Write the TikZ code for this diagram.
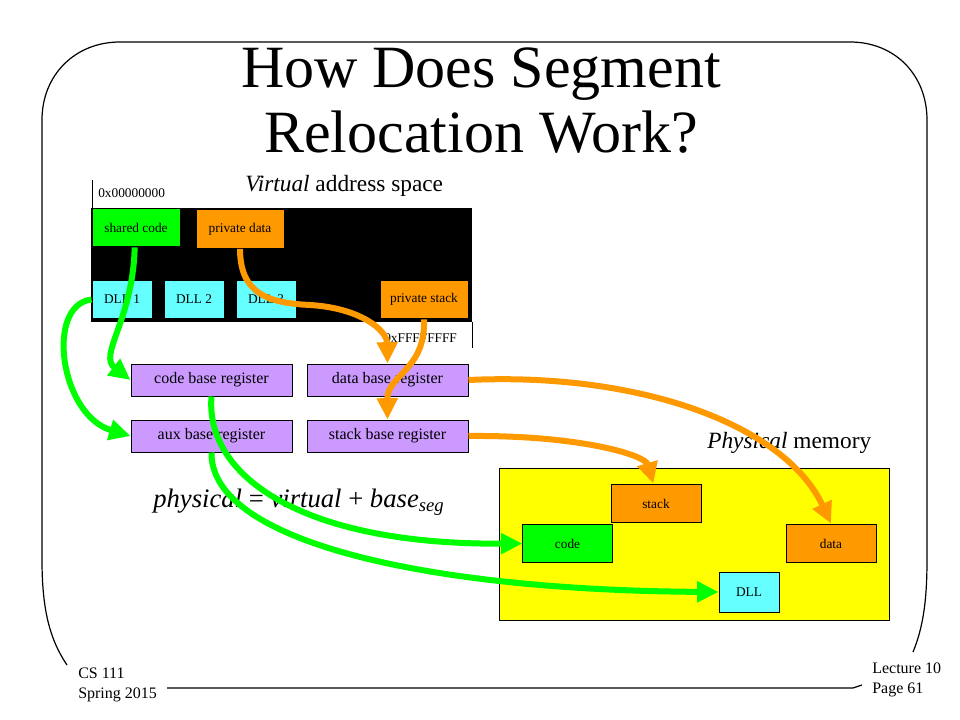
\documentclass[tikz,border=0pt]{standalone}
\usepackage{fontspec}
\setmainfont{Liberation Serif}
\usetikzlibrary{arrows.meta}
\definecolor{segGreen}{HTML}{00FF00}
\definecolor{segOrange}{HTML}{FF9900}
\definecolor{segCyan}{HTML}{66FFFF}
\definecolor{regPurple}{HTML}{CC99FF}
\definecolor{memYellow}{HTML}{FFFF00}
\tikzset{>={Triangle[length=16pt,width=15pt]}}
\tikzset{
    box/.style={draw=black, line width=0.75pt, inner sep=0pt, font=\fontsize{10}{12}\selectfont},
    seg/.style={box, minimum width=66pt, minimum height=29pt},
    dll/.style={box, fill=segCyan, minimum width=45pt, minimum height=28pt},
    reg/.style={box, fill=regPurple, minimum width=120.75pt, minimum height=24pt, font=\fontsize{12}{14}\selectfont},
    link/.style={->, line width=4.5pt},
    small/.style={font=\fontsize{10}{12}\selectfont, inner sep=0pt},
    foot/.style={font=\fontsize{12}{14}\selectfont, inner sep=0pt, anchor=base west},
}

\begin{document}
\begin{tikzpicture}[x=0.75pt, y=-0.75pt]
    \useasboundingbox (0,0) rectangle (960,720);
    % slide frame
    \draw [line width=0.9pt] (67,665) .. controls (50,640) and (42,610) .. (42,560) -- (42,120)
        .. controls (42,75) and (75,42) .. (120,42) -- (850,42)
        .. controls (895,42) and (927,75) .. (927,120) -- (927,560)
        .. controls (927,605) and (922,630) .. (913,652);
    \draw [line width=0.9pt] (167,688) -- (853,688) -- (862,685);
    % title
    \node (t1) at (481,88) [anchor=base, inner sep=0pt, font=\fontsize{45}{50}\selectfont] {How Does Segment};
    \node (t2) at (481,153) [anchor=base, inner sep=0pt, font=\fontsize{45}{50}\selectfont] {Relocation Work?};
    % virtual address space
    \node (vas) at (245,192) [anchor=base west, inner sep=0pt, font=\fontsize{17.5}{20}\selectfont] {\textit{Virtual} address space};
    \node (lo) at (98,198) [small, anchor=base west] {0x00000000};
    \node (hi) at (384,342) [small, anchor=base west] {0xFFFFFFFF};
    \draw [line width=0.75pt] (92,180) -- (92,208);
    \draw [line width=0.75pt] (472,322) -- (472,348);
    \fill [black] (91,208) rectangle (472,322);
    \node (sc) at (136,227.5) [seg, fill=segGreen] {shared code};
    \node (pd) at (240,229) [seg, fill=segOrange] {private data};
    \node (d1) at (122,299.5) [dll] {DLL 1};
    \node (d2) at (194,299.5) [dll] {DLL 2};
    \node (d3) at (266,299.5) [dll] {DLL 3};
    \node (ps) at (424,299.5) [seg, fill=segOrange] {private stack};
    % base registers
    \node (cbr) at (211.5,380) [reg] {code base register};
    \node (dbr) at (387.5,380) [reg] {data base register};
    \node (abr) at (211.5,436) [reg] {aux base register};
    \node (sbr) at (387.5,436) [reg] {stack base register};
    \node (eq) at (153,507) [anchor=base west, inner sep=0pt, font=\fontsize{20}{24}\selectfont] {\textit{physical} = \textit{virtual} + \textit{base\textsubscript{seg}}};
    % physical memory
    \node (phm) at (707,448) [anchor=base west, inner sep=0pt, font=\fontsize{17.5}{20}\selectfont] {\textit{Physical} memory};
    \node (pm) at (694,544) [box, fill=memYellow, minimum width=292.5pt, minimum height=114pt] {};
    \node (sp) at (656,503.5) [seg, fill=segOrange, minimum width=67.5pt] {stack};
    \node (cp) at (567.5,543.5) [seg, fill=segGreen, minimum width=67pt] {code};
    \node (dp) at (831,543.5) [seg, fill=segOrange, minimum width=67.5pt] {data};
    \node (lp) at (749,592) [dll, minimum height=30pt] {DLL};
    % relocation arrows
    \draw [link, segGreen] ([xshift=-1pt]sc.south) .. controls (133,320) and (98,355) .. (cbr.west);
    \draw [link, segGreen] (d1.west) .. controls (45,305) and (60,415) .. (abr.west);
    \draw [link, segOrange] (pd.south) .. controls (240,295) and (270,303) .. (310,305)
        .. controls (360,308) and (387,330) .. (dbr.north);
    \draw [link, segOrange] (ps.south) .. controls (426,370) and (387,375) .. (sbr.north);
    \draw [link, segOrange] (dbr.east) .. controls (640,372) and (785,425) .. (dp.north);
    \draw [link, segOrange] (sbr.east) .. controls (580,435) and (645,455) .. ([xshift=-2pt]sp.north);
    \draw [link, segGreen] (cbr.south) .. controls (205,475) and (300,545) .. (cp.west);
    \draw [link, segGreen] (abr.south) .. controls (210,540) and (420,590) .. (lp.west);
    % footer
    \node (cs) at (78,678) [foot] {CS 111};
    \node (term) at (78,698) [foot] {Spring 2015};
    \node (lec) at (872,673) [foot] {Lecture 10};
    \node (pg) at (872,693) [foot] {Page 61};
\end{tikzpicture}
\end{document}
